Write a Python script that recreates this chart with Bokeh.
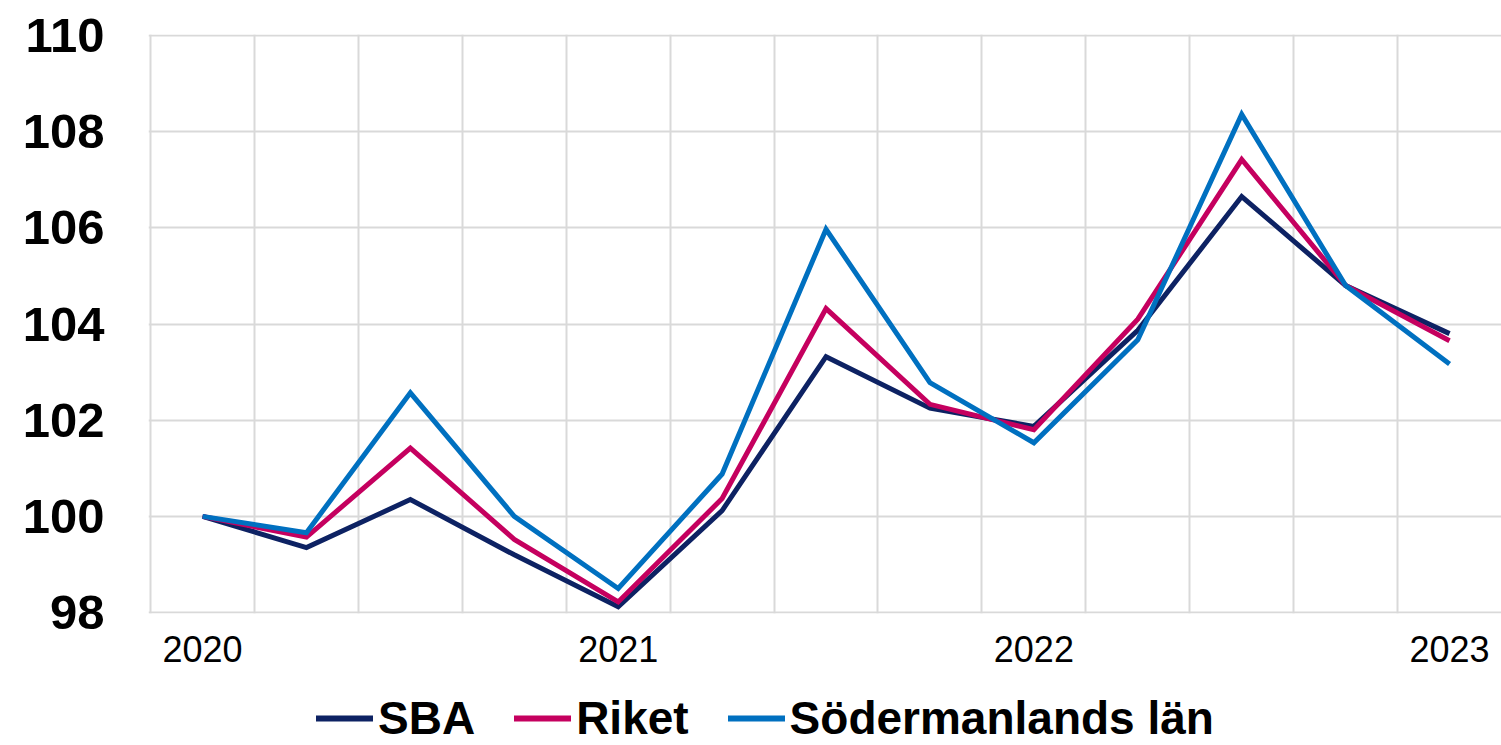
from bokeh.plotting import figure
from bokeh.layouts import column
from bokeh.models import Range1d, FixedTicker, Legend, LegendItem
from bokeh.embed import file_html
from bokeh.resources import INLINE

quarters = ["2020 Q1", "2020 Q2", "2020 Q3", "2020 Q4",
            "2021 Q1", "2021 Q2", "2021 Q3", "2021 Q4",
            "2022 Q1", "2022 Q2", "2022 Q3", "2022 Q4",
            "2023 Q1"]
year_labels = {0: "2020", 4: "2021", 8: "2022", 12: "2023"}
sba = [100.0, 99.35, 100.35, 99.2, 98.12, 100.12, 103.32, 102.25, 101.87, 103.87, 106.65, 104.8, 103.8]
riket = [100.0, 99.57, 101.42, 99.52, 98.22, 100.37, 104.32, 102.33, 101.8, 104.1, 107.42, 104.8, 103.65]
sodermanland = [100.0, 99.66, 102.57, 100.0, 98.5, 100.88, 105.97, 102.78, 101.53, 103.67, 108.36, 104.8, 103.17]

series_names = ["SBA", "Riket", "Södermanlands län"]
series_colors = ["#0d2263", "#c5005f", "#0070c0"]
series_values = [sba, riket, sodermanland]

x = list(range(len(quarters)))

p = figure(width=1501, height=680, output_backend="svg", toolbar_location=None,
           x_range=Range1d(-0.52, len(quarters) - 0.5), y_range=Range1d(97.98, 110.02),
           min_border_left=148, min_border_right=0, min_border_top=34, min_border_bottom=67)
p.outline_line_color = None
p.background_fill_color = "white"

for vals, col in zip(series_values, series_colors):
    p.line(x, vals, line_color=col, line_width=5, line_join="miter")

# grids
p.xgrid.ticker = FixedTicker(ticks=[i - 0.5 for i in range(len(quarters))])
p.xgrid.grid_line_color = "#d9d9d9"
p.xgrid.grid_line_width = 2
p.ygrid.ticker = FixedTicker(ticks=list(range(98, 111, 2)))
p.ygrid.grid_line_color = "#d9d9d9"
p.ygrid.grid_line_width = 2

# axes
p.xaxis.ticker = FixedTicker(ticks=list(year_labels.keys()))
p.xaxis.major_label_overrides = {k: v for k, v in year_labels.items()}
p.xaxis.axis_line_color = None
p.xaxis.major_tick_line_color = None
p.xaxis.major_tick_out = 0
p.xaxis.major_tick_in = 0
p.xaxis.minor_tick_line_color = None
p.xaxis.major_label_text_font = "Liberation Sans"
p.xaxis.major_label_text_font_size = "36px"
p.xaxis.major_label_text_color = "#000000"
p.xaxis.major_label_standoff = 22

p.yaxis.ticker = FixedTicker(ticks=list(range(98, 111, 2)))
p.yaxis.axis_line_color = None
p.yaxis.major_tick_line_color = None
p.yaxis.major_tick_out = 0
p.yaxis.major_tick_in = 0
p.yaxis.minor_tick_line_color = None
p.yaxis.major_label_text_font = "Liberation Sans"
p.yaxis.major_label_text_font_style = "bold"
p.yaxis.major_label_text_font_size = "49px"
p.yaxis.major_label_text_color = "#000000"
p.yaxis.major_label_standoff = 44

# legend strip: same series drawn out of view, only their legend is visible
pl = figure(width=1501, height=65, output_backend="svg", toolbar_location=None,
            x_range=Range1d(-0.52, len(quarters) - 0.5), y_range=Range1d(0, 1),
            x_axis_type=None, y_axis_type=None,
            min_border_left=148, min_border_right=0, min_border_top=0, min_border_bottom=0)
pl.outline_line_color = None
leg_renderers = [pl.line(x, vals, line_color=c, line_width=6, line_cap="round")
                 for vals, c in zip(series_values, series_colors)]
items = [LegendItem(label=n, renderers=[r]) for n, r in zip(series_names, leg_renderers)]
legend = Legend(items=items, orientation="horizontal", location=(168, 0),
                label_text_font="Liberation Sans", label_text_font_style="bold",
                label_text_font_size="46px", label_text_color="#000000",
                glyph_width=57, glyph_height=40, label_height=40,
                label_standoff=5, spacing=39,
                border_line_color=None, background_fill_alpha=0,
                padding=0, margin=0)
pl.add_layout(legend, "center")

layout = column(p, pl, spacing=0)
open("out.html", "w").write(file_html(layout, INLINE))
